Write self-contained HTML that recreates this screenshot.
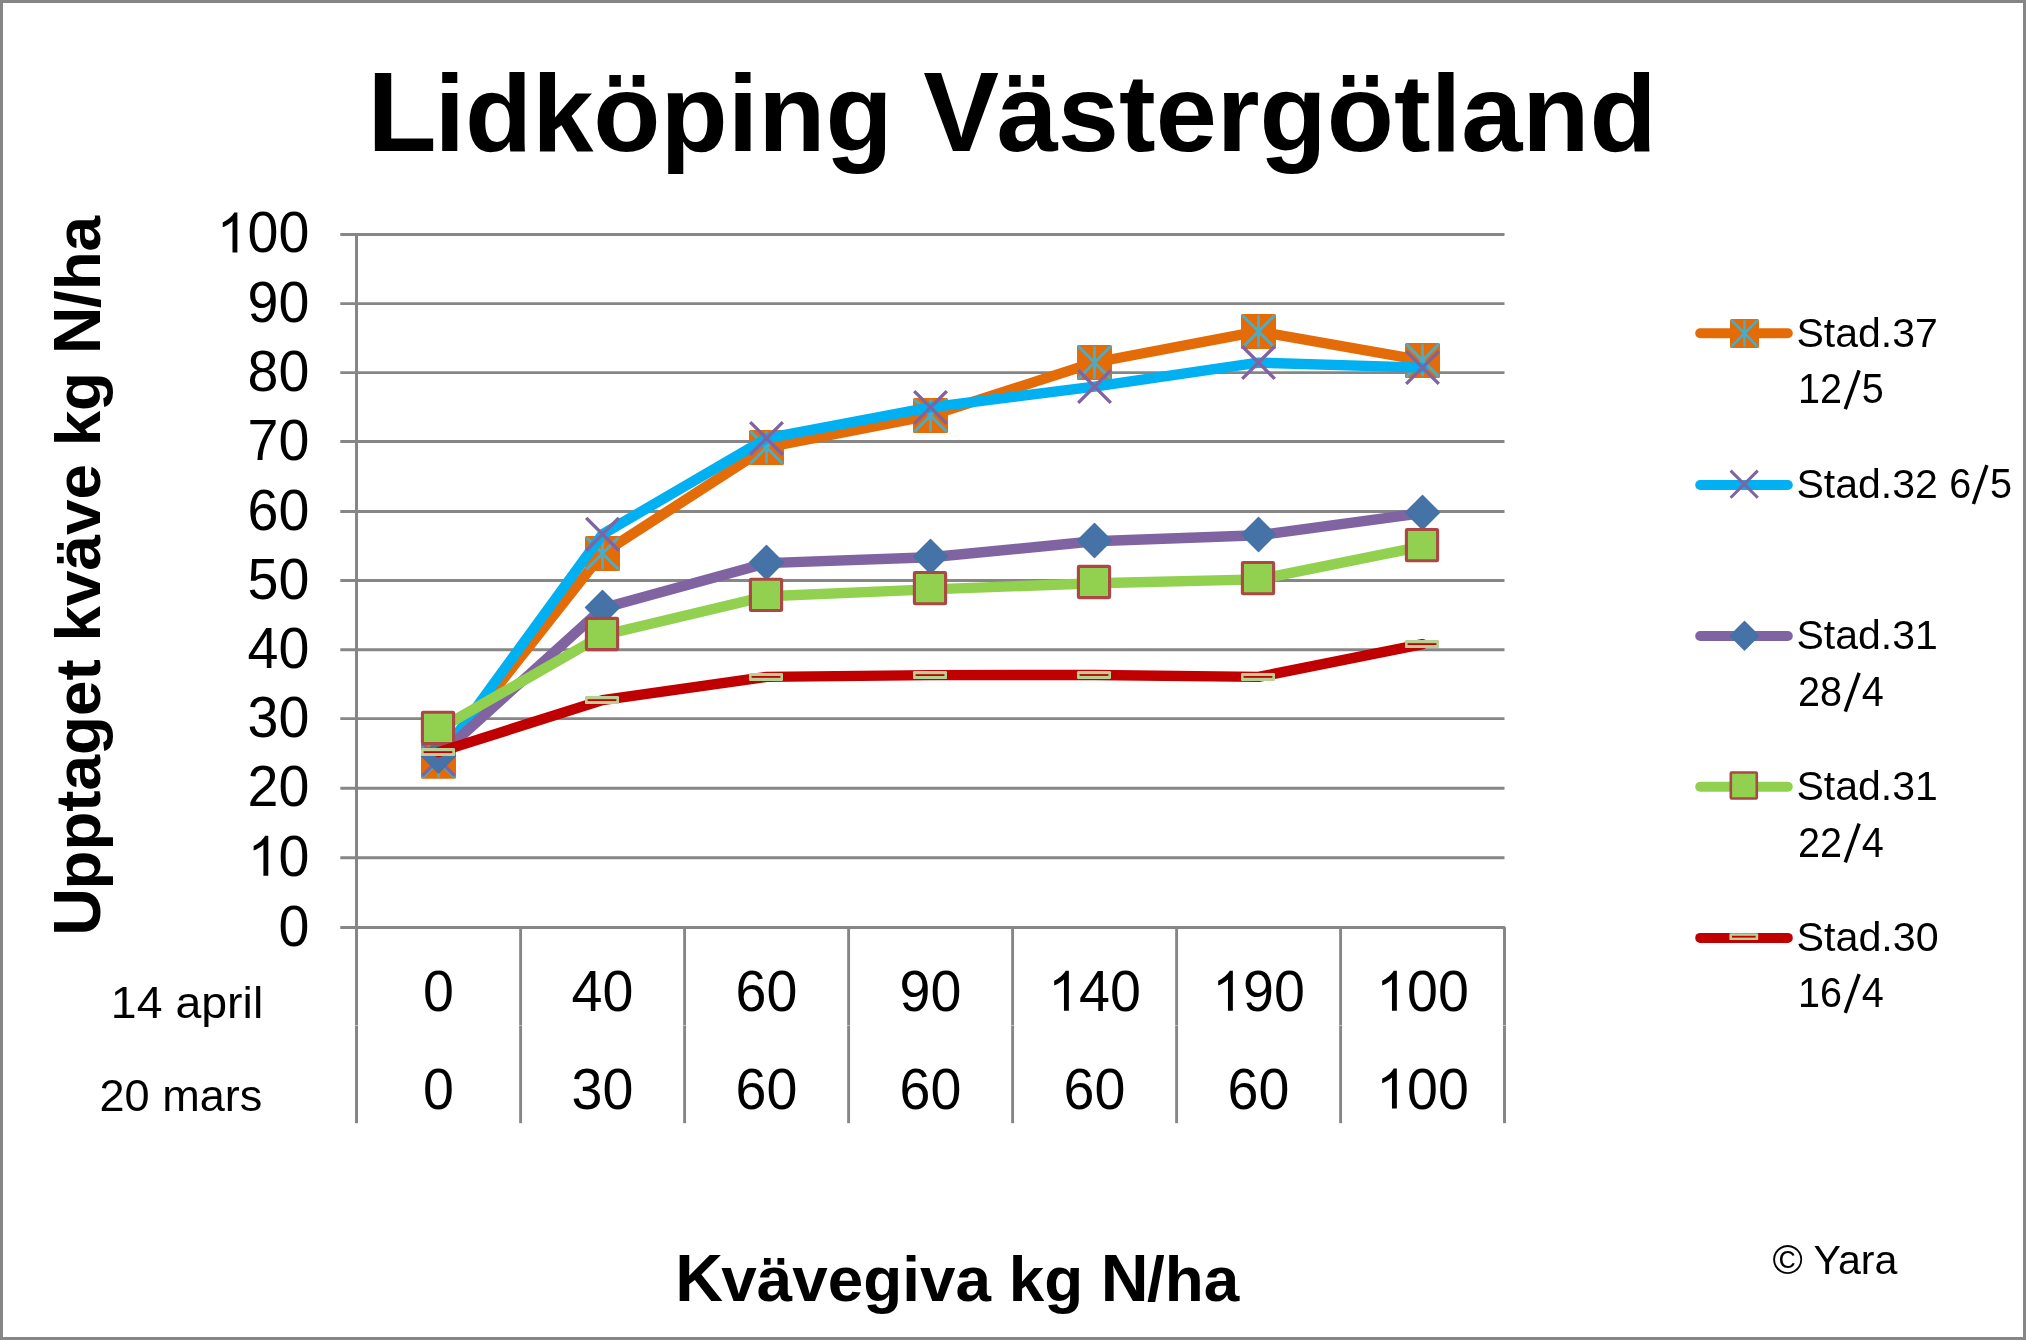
<!DOCTYPE html>
<html lang="sv"><head><meta charset="utf-8"><title>Lidköping Västergötland</title>
<style>
html,body{margin:0;padding:0;background:#fff;}
body{width:2026px;height:1340px;overflow:hidden;}
svg{display:block;}
text{font-family:"Liberation Sans",sans-serif;fill:#000;}
.b{font-weight:bold;}
</style></head><body>
<svg width="2026" height="1340" viewBox="0 0 2026 1340" role="img" aria-label="Lidköping Västergötland – upptaget kväve">
<rect x="0" y="0" width="2026" height="1340" fill="#fff"/>
<rect x="1.5" y="1.5" width="2023" height="1337" fill="none" stroke="#868686" stroke-width="3"/>
<text class="b" x="1012" y="150.7" font-size="110" text-anchor="middle"><tspan font-size="113.6">L</tspan><tspan dx="-2.2">idköping </tspan><tspan font-size="113.6">V</tspan><tspan dx="-2.4">ästergötland</tspan></text>
<g stroke="#868686" stroke-width="2.9" fill="none" stroke-linecap="butt">
<line x1="340.3" y1="857.8" x2="1504.5" y2="857.8"/>
<line x1="340.3" y1="788.3" x2="1504.5" y2="788.3"/>
<line x1="340.3" y1="718.6" x2="1504.5" y2="718.6"/>
<line x1="340.3" y1="649.8" x2="1504.5" y2="649.8"/>
<line x1="340.3" y1="580.5" x2="1504.5" y2="580.5"/>
<line x1="340.3" y1="511.5" x2="1504.5" y2="511.5"/>
<line x1="340.3" y1="441.5" x2="1504.5" y2="441.5"/>
<line x1="340.3" y1="372.6" x2="1504.5" y2="372.6"/>
<line x1="340.3" y1="303.6" x2="1504.5" y2="303.6"/>
<line x1="340.3" y1="234.4" x2="1504.5" y2="234.4" stroke-width="3"/>
<line x1="356.5" y1="234.4" x2="356.5" y2="1025.35" stroke-width="3"/>
<line x1="356.5" y1="1025.65" x2="356.5" y2="1123.2" stroke-width="3"/>
<line x1="520.6" y1="927.5" x2="520.6" y2="1025.35"/>
<line x1="520.6" y1="1025.65" x2="520.6" y2="1123.2"/>
<line x1="684.6" y1="927.5" x2="684.6" y2="1025.35"/>
<line x1="684.6" y1="1025.65" x2="684.6" y2="1123.2"/>
<line x1="848.6" y1="927.5" x2="848.6" y2="1025.35"/>
<line x1="848.6" y1="1025.65" x2="848.6" y2="1123.2"/>
<line x1="1012.6" y1="927.5" x2="1012.6" y2="1025.35"/>
<line x1="1012.6" y1="1025.65" x2="1012.6" y2="1123.2"/>
<line x1="1176.6" y1="927.5" x2="1176.6" y2="1025.35"/>
<line x1="1176.6" y1="1025.65" x2="1176.6" y2="1123.2"/>
<line x1="1340.6" y1="927.5" x2="1340.6" y2="1025.35"/>
<line x1="1340.6" y1="1025.65" x2="1340.6" y2="1123.2"/>
<polyline points="340.3,927.5 1504.5,927.5 1504.5,1025.35" stroke-width="3" stroke-linejoin="bevel"/>
<line x1="1504.5" y1="1025.65" x2="1504.5" y2="1123.2" stroke-width="3"/>
</g>
<text transform="translate(278.5,945.5) scale(0.96,1)" font-size="57.9" text-anchor="start">0</text>
<path transform="translate(247.6,875.8) scale(0.02713,-0.02713)" d="M763 0H583V1147Q518 1085 412.5 1023T223 930V1104Q374 1175 487 1276T647 1472H763Z" fill="#000"/><text transform="translate(278.5,875.8) scale(0.96,1)" font-size="57.9" text-anchor="start">0</text>
<text transform="translate(247.6,806.3) scale(0.96,1)" font-size="57.9" text-anchor="start">20</text>
<text transform="translate(247.6,736.6) scale(0.96,1)" font-size="57.9" text-anchor="start">30</text>
<text transform="translate(247.6,667.8) scale(0.96,1)" font-size="57.9" text-anchor="start">40</text>
<text transform="translate(247.6,598.5) scale(0.96,1)" font-size="57.9" text-anchor="start">50</text>
<text transform="translate(247.6,529.5) scale(0.96,1)" font-size="57.9" text-anchor="start">60</text>
<text transform="translate(247.6,459.5) scale(0.96,1)" font-size="57.9" text-anchor="start">70</text>
<text transform="translate(247.6,390.6) scale(0.96,1)" font-size="57.9" text-anchor="start">80</text>
<text transform="translate(247.6,321.6) scale(0.96,1)" font-size="57.9" text-anchor="start">90</text>
<path transform="translate(216.69,252.4) scale(0.02713,-0.02713)" d="M763 0H583V1147Q518 1085 412.5 1023T223 930V1104Q374 1175 487 1276T647 1472H763Z" fill="#000"/><text transform="translate(247.6,252.4) scale(0.96,1)" font-size="57.9" text-anchor="start">00</text>
<polyline points="438.5,761.3 602.5,553.4 766.5,447.4 930.5,415.5 1094.5,362.5 1258.5,331.4 1422.5,360.4" fill="none" stroke="#E36C09" stroke-width="10.4" stroke-linecap="round" stroke-linejoin="round"/>
<g transform="translate(438.5,761.3)"><rect x="-17.5" y="-17.5" width="35" height="35" rx="1.5" fill="#E36C09"/><path d="M-16.2,-16.2 L16.2,16.2 M16.2,-16.2 L-16.2,16.2 M0,-16.2 L0,16.2" stroke="#4BACC6" stroke-width="3" fill="none" stroke-linecap="butt"/></g>
<g transform="translate(602.5,553.4)"><rect x="-17.5" y="-17.5" width="35" height="35" rx="1.5" fill="#E36C09"/><path d="M-16.2,-16.2 L16.2,16.2 M16.2,-16.2 L-16.2,16.2 M0,-16.2 L0,16.2" stroke="#4BACC6" stroke-width="3" fill="none" stroke-linecap="butt"/></g>
<g transform="translate(766.5,447.4)"><rect x="-17.5" y="-17.5" width="35" height="35" rx="1.5" fill="#E36C09"/><path d="M-16.2,-16.2 L16.2,16.2 M16.2,-16.2 L-16.2,16.2 M0,-16.2 L0,16.2" stroke="#4BACC6" stroke-width="3" fill="none" stroke-linecap="butt"/></g>
<g transform="translate(930.5,415.5)"><rect x="-17.5" y="-17.5" width="35" height="35" rx="1.5" fill="#E36C09"/><path d="M-16.2,-16.2 L16.2,16.2 M16.2,-16.2 L-16.2,16.2 M0,-16.2 L0,16.2" stroke="#4BACC6" stroke-width="3" fill="none" stroke-linecap="butt"/></g>
<g transform="translate(1094.5,362.5)"><rect x="-17.5" y="-17.5" width="35" height="35" rx="1.5" fill="#E36C09"/><path d="M-16.2,-16.2 L16.2,16.2 M16.2,-16.2 L-16.2,16.2 M0,-16.2 L0,16.2" stroke="#4BACC6" stroke-width="3" fill="none" stroke-linecap="butt"/></g>
<g transform="translate(1258.5,331.4)"><rect x="-17.5" y="-17.5" width="35" height="35" rx="1.5" fill="#E36C09"/><path d="M-16.2,-16.2 L16.2,16.2 M16.2,-16.2 L-16.2,16.2 M0,-16.2 L0,16.2" stroke="#4BACC6" stroke-width="3" fill="none" stroke-linecap="butt"/></g>
<g transform="translate(1422.5,360.4)"><rect x="-17.5" y="-17.5" width="35" height="35" rx="1.5" fill="#E36C09"/><path d="M-16.2,-16.2 L16.2,16.2 M16.2,-16.2 L-16.2,16.2 M0,-16.2 L0,16.2" stroke="#4BACC6" stroke-width="3" fill="none" stroke-linecap="butt"/></g>
<polyline points="438.5,759.5 602.5,534.2 766.5,438.4 930.5,407.4 1094.5,386.6 1258.5,362.6 1422.5,367.6" fill="none" stroke="#00B0F0" stroke-width="10.4" stroke-linecap="round" stroke-linejoin="round"/>
<path transform="translate(438.5,759.5)" d="M-16.3,-16.3 L16.3,16.3 M16.3,-16.3 L-16.3,16.3" stroke="#8064A2" stroke-width="3.4" fill="none" stroke-linecap="butt"/>
<path transform="translate(602.5,534.2)" d="M-16.3,-16.3 L16.3,16.3 M16.3,-16.3 L-16.3,16.3" stroke="#8064A2" stroke-width="3.4" fill="none" stroke-linecap="butt"/>
<path transform="translate(766.5,438.4)" d="M-16.3,-16.3 L16.3,16.3 M16.3,-16.3 L-16.3,16.3" stroke="#8064A2" stroke-width="3.4" fill="none" stroke-linecap="butt"/>
<path transform="translate(930.5,407.4)" d="M-16.3,-16.3 L16.3,16.3 M16.3,-16.3 L-16.3,16.3" stroke="#8064A2" stroke-width="3.4" fill="none" stroke-linecap="butt"/>
<path transform="translate(1094.5,386.6)" d="M-16.3,-16.3 L16.3,16.3 M16.3,-16.3 L-16.3,16.3" stroke="#8064A2" stroke-width="3.4" fill="none" stroke-linecap="butt"/>
<path transform="translate(1258.5,362.6)" d="M-16.3,-16.3 L16.3,16.3 M16.3,-16.3 L-16.3,16.3" stroke="#8064A2" stroke-width="3.4" fill="none" stroke-linecap="butt"/>
<path transform="translate(1422.5,367.6)" d="M-16.3,-16.3 L16.3,16.3 M16.3,-16.3 L-16.3,16.3" stroke="#8064A2" stroke-width="3.4" fill="none" stroke-linecap="butt"/>
<polyline points="438.5,756.7 602.5,608.3 766.5,563.1 930.5,557.3 1094.5,541.2 1258.5,535.2 1422.5,513.2" fill="none" stroke="#8064A2" stroke-width="10.4" stroke-linecap="round" stroke-linejoin="round"/>
<path transform="translate(438.5,756)" d="M0,-17 L17,0 L0,17 L-17,0 Z" fill="#4572A7" stroke="#4572A7" stroke-width="1.4" stroke-linejoin="round"/>
<path transform="translate(602.5,607.6)" d="M0,-17 L17,0 L0,17 L-17,0 Z" fill="#4572A7" stroke="#4572A7" stroke-width="1.4" stroke-linejoin="round"/>
<path transform="translate(766.5,562.4)" d="M0,-17 L17,0 L0,17 L-17,0 Z" fill="#4572A7" stroke="#4572A7" stroke-width="1.4" stroke-linejoin="round"/>
<path transform="translate(930.5,556.6)" d="M0,-17 L17,0 L0,17 L-17,0 Z" fill="#4572A7" stroke="#4572A7" stroke-width="1.4" stroke-linejoin="round"/>
<path transform="translate(1094.5,540.5)" d="M0,-17 L17,0 L0,17 L-17,0 Z" fill="#4572A7" stroke="#4572A7" stroke-width="1.4" stroke-linejoin="round"/>
<path transform="translate(1258.5,534.5)" d="M0,-17 L17,0 L0,17 L-17,0 Z" fill="#4572A7" stroke="#4572A7" stroke-width="1.4" stroke-linejoin="round"/>
<path transform="translate(1422.5,512.5)" d="M0,-17 L17,0 L0,17 L-17,0 Z" fill="#4572A7" stroke="#4572A7" stroke-width="1.4" stroke-linejoin="round"/>
<polyline points="438.5,729.2 602.5,635.3 766.5,596.2 930.5,589.4 1094.5,583.3 1258.5,579.4 1422.5,546.4" fill="none" stroke="#92D050" stroke-width="10.4" stroke-linecap="round" stroke-linejoin="round"/>
<rect x="422.4" y="712.3" width="31.2" height="31.2" rx="0.8" fill="#92D050" stroke="#AB4744" stroke-width="3.1" stroke-linejoin="round"/>
<rect x="586.4" y="618.4" width="31.2" height="31.2" rx="0.8" fill="#92D050" stroke="#AB4744" stroke-width="3.1" stroke-linejoin="round"/>
<rect x="750.4" y="579.3" width="31.2" height="31.2" rx="0.8" fill="#92D050" stroke="#AB4744" stroke-width="3.1" stroke-linejoin="round"/>
<rect x="914.4" y="572.5" width="31.2" height="31.2" rx="0.8" fill="#92D050" stroke="#AB4744" stroke-width="3.1" stroke-linejoin="round"/>
<rect x="1078.4" y="566.4" width="31.2" height="31.2" rx="0.8" fill="#92D050" stroke="#AB4744" stroke-width="3.1" stroke-linejoin="round"/>
<rect x="1242.4" y="562.5" width="31.2" height="31.2" rx="0.8" fill="#92D050" stroke="#AB4744" stroke-width="3.1" stroke-linejoin="round"/>
<rect x="1406.4" y="529.5" width="31.2" height="31.2" rx="0.8" fill="#92D050" stroke="#AB4744" stroke-width="3.1" stroke-linejoin="round"/>
<polyline points="438.5,752.1 602.5,700.1 766.5,676.9 930.5,675.1 1094.5,675 1258.5,676.9 1422.5,644.1" fill="none" stroke="#C00000" stroke-width="10.4" stroke-linecap="round" stroke-linejoin="round"/>
<g transform="translate(438,752.1)"><rect x="-17" y="-4" width="34" height="8" rx="1.2" fill="#B9D095"/><rect x="-14.4" y="-0.9" width="28.8" height="1.8" fill="#C00000"/></g>
<g transform="translate(602,700.1)"><rect x="-17" y="-4" width="34" height="8" rx="1.2" fill="#B9D095"/><rect x="-14.4" y="-0.9" width="28.8" height="1.8" fill="#C00000"/></g>
<g transform="translate(766,676.9)"><rect x="-17" y="-4" width="34" height="8" rx="1.2" fill="#B9D095"/><rect x="-14.4" y="-0.9" width="28.8" height="1.8" fill="#C00000"/></g>
<g transform="translate(930,675.1)"><rect x="-17" y="-4" width="34" height="8" rx="1.2" fill="#B9D095"/><rect x="-14.4" y="-0.9" width="28.8" height="1.8" fill="#C00000"/></g>
<g transform="translate(1094,675)"><rect x="-17" y="-4" width="34" height="8" rx="1.2" fill="#B9D095"/><rect x="-14.4" y="-0.9" width="28.8" height="1.8" fill="#C00000"/></g>
<g transform="translate(1258,676.9)"><rect x="-17" y="-4" width="34" height="8" rx="1.2" fill="#B9D095"/><rect x="-14.4" y="-0.9" width="28.8" height="1.8" fill="#C00000"/></g>
<g transform="translate(1422,644.1)"><rect x="-17" y="-4" width="34" height="8" rx="1.2" fill="#B9D095"/><rect x="-14.4" y="-0.9" width="28.8" height="1.8" fill="#C00000"/></g>
<text transform="translate(423.05,1010.7) scale(0.96,1)" font-size="57.9" text-anchor="start">0</text>
<text transform="translate(571.6,1010.7) scale(0.96,1)" font-size="57.9" text-anchor="start">40</text>
<text transform="translate(735.6,1010.7) scale(0.96,1)" font-size="57.9" text-anchor="start">60</text>
<text transform="translate(899.6,1010.7) scale(0.96,1)" font-size="57.9" text-anchor="start">90</text>
<path transform="translate(1048.15,1010.7) scale(0.02713,-0.02713)" d="M763 0H583V1147Q518 1085 412.5 1023T223 930V1104Q374 1175 487 1276T647 1472H763Z" fill="#000"/><text transform="translate(1079.05,1010.7) scale(0.96,1)" font-size="57.9" text-anchor="start">40</text>
<path transform="translate(1212.15,1010.7) scale(0.02713,-0.02713)" d="M763 0H583V1147Q518 1085 412.5 1023T223 930V1104Q374 1175 487 1276T647 1472H763Z" fill="#000"/><text transform="translate(1243.05,1010.7) scale(0.96,1)" font-size="57.9" text-anchor="start">90</text>
<path transform="translate(1376.15,1010.7) scale(0.02713,-0.02713)" d="M763 0H583V1147Q518 1085 412.5 1023T223 930V1104Q374 1175 487 1276T647 1472H763Z" fill="#000"/><text transform="translate(1407.05,1010.7) scale(0.96,1)" font-size="57.9" text-anchor="start">00</text>
<text transform="translate(423.05,1108.5) scale(0.96,1)" font-size="57.9" text-anchor="start">0</text>
<text transform="translate(571.6,1108.5) scale(0.96,1)" font-size="57.9" text-anchor="start">30</text>
<text transform="translate(735.6,1108.5) scale(0.96,1)" font-size="57.9" text-anchor="start">60</text>
<text transform="translate(899.6,1108.5) scale(0.96,1)" font-size="57.9" text-anchor="start">60</text>
<text transform="translate(1063.6,1108.5) scale(0.96,1)" font-size="57.9" text-anchor="start">60</text>
<text transform="translate(1227.6,1108.5) scale(0.96,1)" font-size="57.9" text-anchor="start">60</text>
<path transform="translate(1376.15,1108.5) scale(0.02713,-0.02713)" d="M763 0H583V1147Q518 1085 412.5 1023T223 930V1104Q374 1175 487 1276T647 1472H763Z" fill="#000"/><text transform="translate(1407.05,1108.5) scale(0.96,1)" font-size="57.9" text-anchor="start">00</text>
<text class="b" x="957.2" y="1300.5" font-size="63.8" text-anchor="middle"><tspan font-size="66.2">K</tspan><tspan dx="-1.7">vävegiva kg </tspan><tspan font-size="66.2">N</tspan><tspan dx="-1.7">/ha</tspan></text>
<text class="b" transform="translate(99.6,575.8) rotate(-90)" font-size="63.8" text-anchor="middle"><tspan font-size="66.2">U</tspan><tspan dx="-1.7">pptaget kväve kg </tspan><tspan font-size="66.2">N</tspan><tspan dx="-1.7">/ha</tspan></text>
<line x1="1700.2" y1="333.2" x2="1787.8" y2="333.2" stroke="#E36C09" stroke-width="10" stroke-linecap="round"/>
<line x1="1700.2" y1="485" x2="1787.8" y2="485" stroke="#00B0F0" stroke-width="10" stroke-linecap="round"/>
<line x1="1700.2" y1="636" x2="1787.8" y2="636" stroke="#8064A2" stroke-width="10" stroke-linecap="round"/>
<line x1="1700.2" y1="786.8" x2="1787.8" y2="786.8" stroke="#92D050" stroke-width="10" stroke-linecap="round"/>
<line x1="1700.2" y1="937.9" x2="1787.8" y2="937.9" stroke="#C00000" stroke-width="10" stroke-linecap="round"/>
<g transform="translate(1744.5,333.4)"><rect x="-14.5" y="-14.5" width="29" height="29" rx="1.5" fill="#E36C09"/><path d="M-13.2,-13.2 L13.2,13.2 M13.2,-13.2 L-13.2,13.2 M0,-13.2 L0,13.2" stroke="#4BACC6" stroke-width="2.6" fill="none" stroke-linecap="butt"/></g>
<path transform="translate(1744.2,484.2)" d="M-13.6,-13.6 L13.6,13.6 M13.6,-13.6 L-13.6,13.6" stroke="#8064A2" stroke-width="3" fill="none" stroke-linecap="butt"/>
<path transform="translate(1744.5,635.7)" d="M0,-14.2 L14.2,0 L0,14.2 L-14.2,0 Z" fill="#4572A7" stroke="#4572A7" stroke-width="1.4" stroke-linejoin="round"/>
<rect x="1730.8" y="772.5" width="26" height="26" rx="0.8" fill="#92D050" stroke="#AB4744" stroke-width="2.6" stroke-linejoin="round"/>
<g transform="translate(1743.8,936.7)"><rect x="-14.4" y="-3.4" width="28.8" height="6.8" rx="1.2" fill="#B9D095"/><rect x="-11.8" y="-0.9" width="23.6" height="1.8" fill="#C00000"/></g>
<g opacity="0.999">
<text transform="translate(263.2,1017.7) scale(1.0326,1)" font-size="45" text-anchor="end">14 april</text>
<text transform="translate(262.3,1110.8) scale(1.0015,1)" font-size="45" text-anchor="end">20 mars</text>
<text transform="translate(1796.5,346.6) scale(0.9997,1)" font-size="41" text-anchor="start">Stad.37</text>
<text transform="translate(1797.9,403.3) scale(0.93,1)" font-size="42.6" text-anchor="start">12</text>
<text transform="translate(1861.7,403.3) scale(0.93,1)" font-size="42.6" text-anchor="start">5</text>
<line x1="1845.3" y1="409.1" x2="1859.1" y2="370.3" stroke="#000" stroke-width="3.5"/>
<text transform="translate(1796.5,497.7) scale(0.9997,1)" font-size="41" text-anchor="start">Stad.32</text>
<text transform="translate(1796.5,648.9) scale(0.9997,1)" font-size="41" text-anchor="start">Stad.31</text>
<text transform="translate(1797.9,705.8) scale(0.93,1)" font-size="42.6" text-anchor="start">28</text>
<text transform="translate(1861.7,705.8) scale(0.93,1)" font-size="42.6" text-anchor="start">4</text>
<line x1="1845.3" y1="711.6" x2="1859.1" y2="672.8" stroke="#000" stroke-width="3.5"/>
<text transform="translate(1796.5,799.7) scale(0.9997,1)" font-size="41" text-anchor="start">Stad.31</text>
<text transform="translate(1797.9,856.6) scale(0.93,1)" font-size="42.6" text-anchor="start">22</text>
<text transform="translate(1861.7,856.6) scale(0.93,1)" font-size="42.6" text-anchor="start">4</text>
<line x1="1845.3" y1="862.4" x2="1859.1" y2="823.6" stroke="#000" stroke-width="3.5"/>
<text transform="translate(1796.5,951.3) scale(1.0061,1)" font-size="41" text-anchor="start">Stad.30</text>
<text transform="translate(1797.9,1007.1) scale(0.93,1)" font-size="42.6" text-anchor="start">16</text>
<text transform="translate(1861.7,1007.1) scale(0.93,1)" font-size="42.6" text-anchor="start">4</text>
<line x1="1845.3" y1="1012.9" x2="1859.1" y2="974.1" stroke="#000" stroke-width="3.5"/>
<text transform="translate(1949.2,497.7) scale(0.93,1)" font-size="42.6" text-anchor="start">6</text>
<text transform="translate(1990,497.7) scale(0.93,1)" font-size="42.6" text-anchor="start">5</text>
<line x1="1973.4" y1="504.0" x2="1986.9" y2="465.2" stroke="#000" stroke-width="3.5"/>
<text transform="translate(1772.5,1273.8) scale(1.0046,1)" font-size="41" text-anchor="start">© Yara</text>
</g>
</svg>
</body></html>
